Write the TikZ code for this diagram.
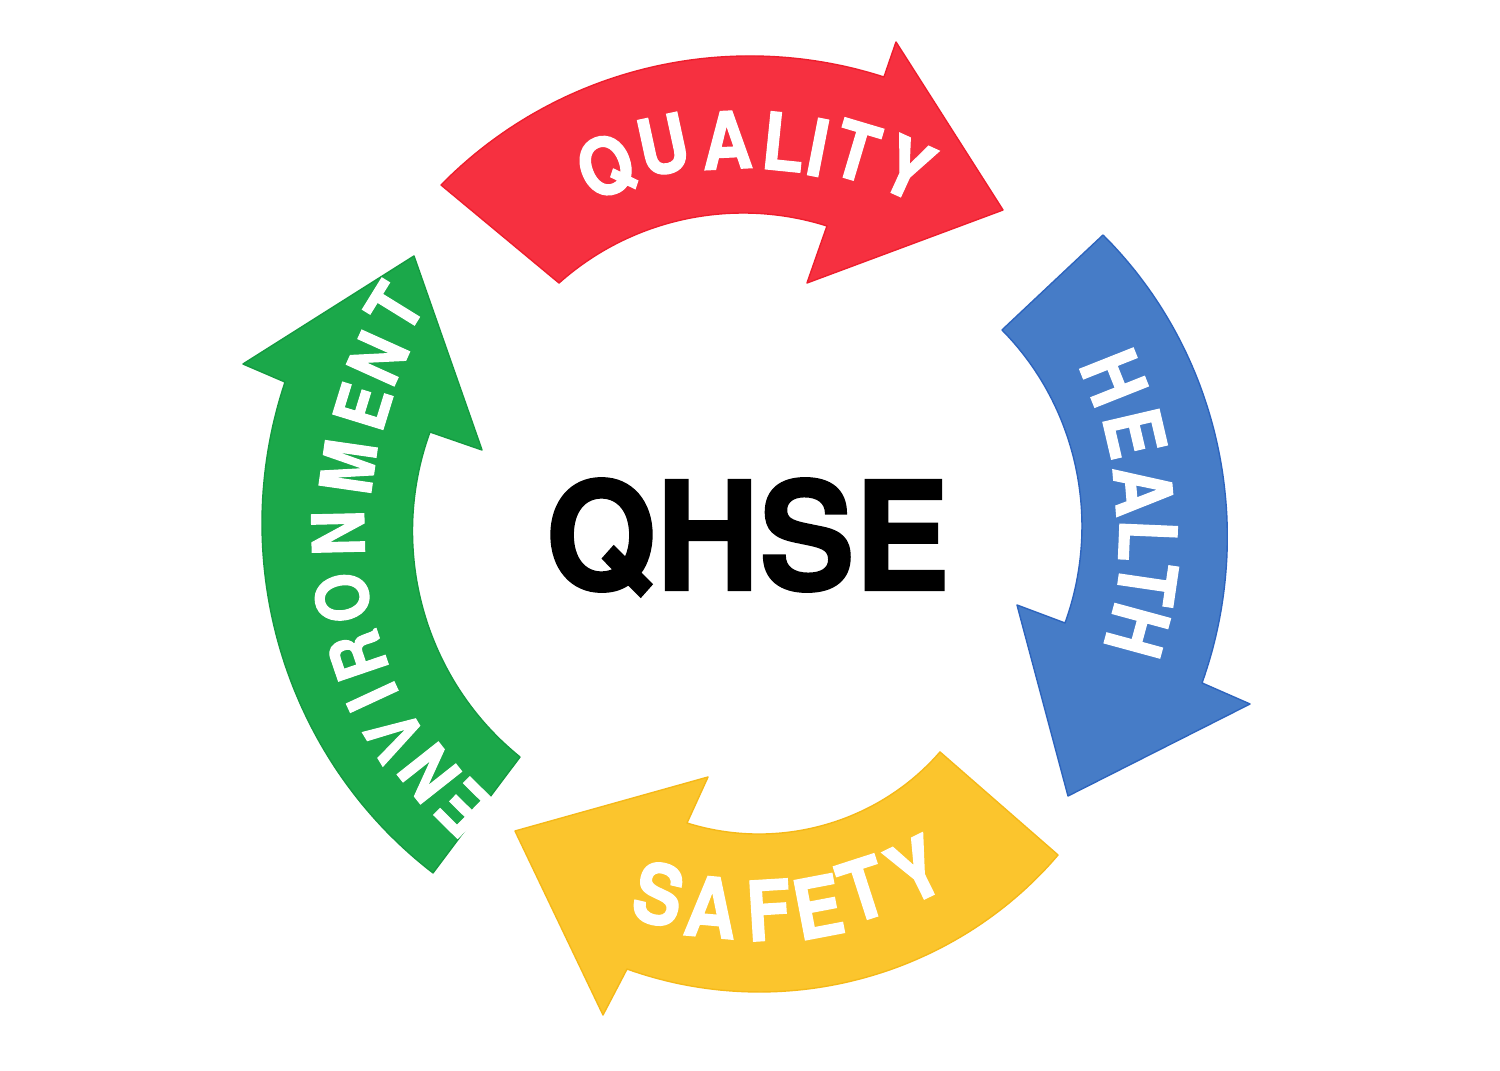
\documentclass[tikz,border=0pt]{standalone}
\usepackage{fontspec}
\setmainfont{Liberation Sans}
\newfontfamily\herosbold{texgyreheros-bold}[Extension=.otf, FakeBold=1.5]
\newfontfamily\heroscond{texgyreheros-bold}[Extension=.otf, FakeBold=1.5, FakeStretch=0.88]
\definecolor{qred}{RGB}{246,48,64}
\definecolor{qredl}{RGB}{238,30,45}
\definecolor{qblue}{RGB}{70,124,199}
\definecolor{qbluel}{RGB}{45,100,190}
\definecolor{qyellow}{RGB}{251,197,45}
\definecolor{qyellowl}{RGB}{245,185,25}
\definecolor{qgreen}{RGB}{27,168,74}
\definecolor{qgreenl}{RGB}{20,155,65}
\begin{document}
\begin{tikzpicture}[x=0.01cm, y=-0.01cm,
  declare function={qr(\t,\a,\ra,\b,\rb,\c,\rc)=\ra*((\t-(\b))/((\a)-(\b)))*((\t-(\c))/((\a)-(\c)))+\rb*((\t-(\a))/((\b)-(\a)))*((\t-(\c))/((\b)-(\c)))+\rc*((\t-(\a))/((\c)-(\a)))*((\t-(\b))/((\c)-(\b)));},
  arrowshape/.style={line width=0.4pt, line join=round},
  letter/.style={inner sep=0pt, text=white, font=\heroscond\fontsize{#1}{#1}\selectfont}]

\fill[white] (0,0) rectangle (1500,1071);

% QUALITY (red)
\filldraw[arrowshape, fill=qred, draw=qredl]
  plot[domain=131.88:72.73, samples=70] ({745+qr(\x,131.88,455.3,90.12,468,72.73,468.1)*cos(\x)},{524-qr(\x,131.88,455.3,90.12,468,72.73,468.1)*sin(\x)})
  -- (896,42) -- (1003,210) -- (807,283)
  -- plot[domain=74.62:127.66, samples=70] ({745+qr(\x,74.62,309.1,90.18,311,127.66,304.4)*cos(\x)},{524-qr(\x,74.62,309.1,90.18,311,127.66,304.4)*sin(\x)})
  -- cycle;

% HEALTH (blue)
\filldraw[arrowshape, fill=qblue, draw=qbluel]
  plot[domain=38.91:-19.18, samples=70] ({745+qr(\x,38.91,460.1,0.48,482,-19.18,483.9)*cos(\x)},{524-qr(\x,38.91,460.1,0.48,482,-19.18,483.9)*sin(\x)})
  -- (1250,704) -- (1068,796) -- (1017,605)
  -- plot[domain=-17.19:37.05, samples=70] ({745+qr(\x,-17.19,335,-0.68,337,37.05,322)*cos(\x)},{524-qr(\x,-17.19,335,-0.68,337,37.05,322)*sin(\x)})
  -- cycle;

% SAFETY (yellow)
\filldraw[arrowshape, fill=qyellow, draw=qyellowl]
  plot[domain=-46.6:-104.85, samples=70] ({745+qr(\x,-46.6,455.6,-88.29,468.2,-104.85,460.4)*cos(\x)},{524-qr(\x,-46.6,455.6,-88.29,468.2,-104.85,460.4)*sin(\x)})
  -- (603,1015) -- (515,831) -- (708,777)
  -- plot[domain=-100.98:-49.46, samples=70] ({745+qr(\x,-100.98,304.6,-88.15,310.2,-49.46,300)*cos(\x)},{524-qr(\x,-100.98,304.6,-88.15,310.2,-49.46,300)*sin(\x)})
  -- cycle;

% ENVIRONMENT (green)
\filldraw[arrowshape, fill=qgreen, draw=qgreenl]
  plot[domain=228.2:162.85, samples=70] ({745+qr(\x,228.2,468.1,180.95,483,162.85,481.4)*cos(\x)},{524-qr(\x,228.2,468.1,180.95,483,162.85,481.4)*sin(\x)})
  -- (243,364) -- (414,256) -- (482,450)
  -- plot[domain=163.72:226, samples=70] ({745+qr(\x,163.72,328.2,184.13,332.9,226,323.9)*cos(\x)},{524-qr(\x,163.72,328.2,184.13,332.9,226,323.9)*sin(\x)})
  -- cycle;

% words: one rotated letter per node
\foreach \ch/\a/\r [count=\i] in {Q/111.3/383.3, U/102.2/387.8, A/92.7/384.4, L/84.2/384.2, I/79.0/383.6, T/73.4/389.2, Y/65.5/391.1}
  \node[letter=22.5pt, rotate=\a-90] (qual\i) at ({745+\r*cos(\a)},{524-\r*sin(\a)}) {\ch};
\foreach \ch/\a/\r [count=\i] in {H/21.65/397, E/13.13/400.5, A/4.8/399.9, L/-2.42/403.4, T/-8.36/406.5, H/-15.21/406.6}
  \node[letter=22.5pt, rotate=\a-90] (heal\i) at ({745+\r*cos(\a)},{524-\r*sin(\a)}) {\ch};
\foreach \ch/\a/\r [count=\i] in {S/256.9/380, A/264.9/384.5, F/273.5/386.8, E/280.8/389.7, T/287.9/383.6, Y/296.2/385.5}
  \node[letter=23.6pt, rotate=\a+90] (safe\i) at ({745+\r*cos(\a)},{524-\r*sin(\a)}) {\ch};
\foreach \ch/\a/\r [count=\i] in {E/225.4/399.5, N/218.3/402, V/211.2/409, I/204.9/411, R/198.8/409.2, O/190.4/409.6, N/181.3/407.1, M/171.8/401, E/162.9/400.1, N/155.7/402.8, T/148.3/412}
  \node[letter=20.5pt, rotate=\a-90] (envi\i) at ({745+\r*cos(\a)},{524-\r*sin(\a)}) {\ch};

% centre title
\node[inner sep=0pt, anchor=base, font=\herosbold\fontsize{42.9pt}{43pt}\selectfont] (qhse) at (747.5,590) {\scalebox{0.946}[1]{QHSE}};
\end{tikzpicture}
\end{document}
